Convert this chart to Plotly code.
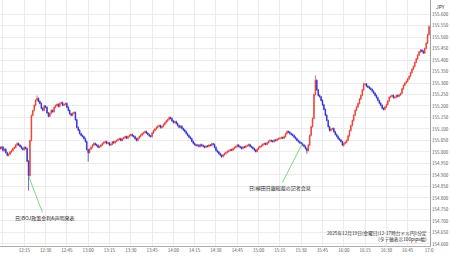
import pandas as pd
import plotly.graph_objects as go

# ---------------- data (USD/JPY, 1-minute closes) ----------------
start_time = "2025-12-19 11:58"
first_open = 155.020
closes = [
    155.015, 155.022, 155.006, 155.012, 154.997, 154.985, 154.990, 155.000, 155.006, 155.015,
    155.020, 155.030, 155.037, 155.030, 155.024, 155.016, 155.010, 155.020, 155.015, 154.960,
    154.897, 155.050, 155.159, 155.180, 155.203, 155.225, 155.233, 155.220, 155.211, 155.190,
    155.181, 155.200, 155.194, 155.170, 155.155, 155.168, 155.181, 155.175, 155.194, 155.202,
    155.207, 155.198, 155.211, 155.215, 155.203, 155.207, 155.211, 155.195, 155.181, 155.166,
    155.159, 155.168, 155.172, 155.140, 155.107, 155.095, 155.080, 155.072, 155.067, 155.058,
    155.045, 155.010, 154.997, 155.012, 155.020, 155.030, 155.037, 155.032, 155.028, 155.020,
    155.024, 155.030, 155.037, 155.042, 155.045, 155.037, 155.040, 155.030, 155.033, 155.044,
    155.040, 155.046, 155.050, 155.055, 155.058, 155.050, 155.058, 155.062, 155.067, 155.060,
    155.067, 155.072, 155.076, 155.070, 155.067, 155.058, 155.050, 155.060, 155.067, 155.074,
    155.080, 155.084, 155.089, 155.082, 155.076, 155.070, 155.067, 155.082, 155.093, 155.100,
    155.107, 155.112, 155.115, 155.106, 155.111, 155.120, 155.128, 155.135, 155.141, 155.150,
    155.146, 155.135, 155.128, 155.132, 155.124, 155.115, 155.107, 155.112, 155.102, 155.096,
    155.089, 155.080, 155.072, 155.064, 155.058, 155.046, 155.037, 155.032, 155.028, 155.030,
    155.024, 155.032, 155.028, 155.024, 155.020, 155.026, 155.024, 155.030, 155.028, 155.036,
    155.033, 155.020, 155.006, 155.000, 154.993, 154.986, 154.980, 154.988, 154.993, 154.998,
    155.002, 155.006, 155.010, 155.008, 155.015, 155.020, 155.024, 155.030, 155.024, 155.020,
    155.015, 155.022, 155.020, 155.026, 155.028, 155.032, 155.024, 155.020, 155.015, 155.008,
    155.002, 155.012, 155.020, 155.024, 155.028, 155.034, 155.037, 155.033, 155.040, 155.046,
    155.050, 155.048, 155.045, 155.052, 155.050, 155.056, 155.058, 155.060, 155.063, 155.060,
    155.067, 155.080, 155.089, 155.086, 155.080, 155.076, 155.072, 155.064, 155.058, 155.050,
    155.045, 155.040, 155.037, 155.030, 155.024, 155.015, 155.006, 155.030, 155.072, 155.110,
    155.146, 155.250, 155.312, 155.270, 155.246, 155.240, 155.224, 155.205, 155.185, 155.160,
    155.137, 155.110, 155.093, 155.100, 155.102, 155.088, 155.076, 155.068, 155.058, 155.052,
    155.045, 155.030, 155.037, 155.042, 155.050, 155.070, 155.093, 155.115, 155.137, 155.160,
    155.181, 155.196, 155.211, 155.230, 155.246, 155.270, 155.294, 155.296, 155.286, 155.282,
    155.277, 155.272, 155.264, 155.256, 155.246, 155.236, 155.224, 155.212, 155.203, 155.190,
    155.185, 155.196, 155.207, 155.222, 155.238, 155.242, 155.246, 155.236, 155.238, 155.246,
    155.242, 155.248, 155.255, 155.275, 155.290, 155.300, 155.307, 155.318, 155.329, 155.345,
    155.360, 155.372, 155.390, 155.405, 155.421, 155.435, 155.443, 155.438, 155.430, 155.450,
    155.473, 155.510, 155.545,
]
wick_pad = 0.004
high_overrides = {"12:24": 155.246, "15:40": 155.334, "15:20": 155.095,
                  "16:14": 155.302, "16:54": 155.447, "17:00": 155.552}
low_overrides = {"12:18": 154.831, "13:00": 154.958, "15:34": 154.993,
                 "16:00": 155.022, "14:34": 154.975}

x_tick_labels = ["12:00", "12:15", "12:30", "12:45", "13:00", "13:15", "13:30", "13:45",
                 "14:00", "14:15", "14:30", "14:45", "15:00", "15:15", "15:30", "15:45",
                 "16:00", "16:15", "16:30", "16:45", "17:0"]
y_tick_labels = ["154.600", "154.650", "154.700", "154.750", "154.800", "154.850", "154.900",
                 "154.950", "155.000", "155.050", "155.100", "155.150", "155.200", "155.250",
                 "155.300", "155.350", "155.400", "155.450", "155.500", "155.550", "155.600"]

note_boj = "日)BOJ政策金利&声明発表"
note_ueda = "日)植田日銀総裁の記者会見"
caption = "2025年12月19日(金曜日)12-17時台ドル円1分足<br>(タテ軸表示100pips幅)"

# ---------------- build OHLC ----------------
times = pd.date_range(start_time, periods=len(closes), freq="1min")
opens = [first_open] + closes[:-1]
highs, lows = [], []
for t, o, c in zip(times, opens, closes):
    key = t.strftime("%H:%M")
    highs.append(high_overrides.get(key, max(o, c) + wick_pad))
    lows.append(low_overrides.get(key, min(o, c) - wick_pad))

UP = "#e8392f"
DOWN = "#2a2ad0"

fig = go.Figure(go.Candlestick(
    x=times, open=opens, high=highs, low=lows, close=closes,
    increasing=dict(line=dict(color=UP, width=0.7), fillcolor=UP),
    decreasing=dict(line=dict(color=DOWN, width=0.7), fillcolor=DOWN),
    whiskerwidth=0, hoverinfo="skip",
))

x_tick_vals = pd.date_range("2025-12-19 12:00", "2025-12-19 17:00", freq="15min")
y_tick_vals = [float(v) for v in y_tick_labels]

fig.update_layout(
    width=450, height=258,
    margin=dict(l=0, r=20, t=0, b=12),
    paper_bgcolor="white", plot_bgcolor="white",
    showlegend=False,
    font=dict(family="Noto Sans CJK JP", color="#333"),
    xaxis=dict(
        type="date",
        range=["2025-12-19 11:57:54", "2025-12-19 17:00:42"],
        tickvals=x_tick_vals, ticktext=x_tick_labels,
        tickfont=dict(size=4.5, color="#555"),
        showgrid=True, gridcolor="#ececec", gridwidth=1,
        showline=True, linecolor="#b0b0b0", linewidth=1,
        ticks="", zeroline=False,
        rangeslider=dict(visible=False),
    ),
    yaxis=dict(
        side="right",
        range=[154.591, 155.661],
        tickvals=y_tick_vals, ticktext=y_tick_labels,
        tickfont=dict(size=4.5, color="#555"),
        showgrid=True, gridcolor="#ececec", gridwidth=1,
        showline=True, linecolor="#a0a0a0", linewidth=1,
        ticks="", zeroline=False,
    ),
)

GREEN = "#5ccc5c"
fig.add_annotation(x=pd.Timestamp("2025-12-19 12:18"), y=154.896, text=note_boj,
                   showarrow=True, arrowhead=0, arrowcolor=GREEN, arrowwidth=0.8,
                   ax=16, ay=42, font=dict(size=5, color="#222"))
fig.add_annotation(x=pd.Timestamp("2025-12-19 15:31"), y=155.039, text=note_ueda,
                   showarrow=True, arrowhead=0, arrowcolor=GREEN, arrowwidth=0.8,
                   ax=-23, ay=45, font=dict(size=5, color="#222"))
fig.add_annotation(xref="paper", yref="paper", x=1, y=0, xanchor="right", yanchor="bottom",
                   xshift=-1, yshift=1, text=caption, showarrow=False, align="right",
                   font=dict(size=4.7, color="#222"))
fig.add_annotation(xref="paper", yref="paper", x=1, y=1, xanchor="left", yanchor="top",
                   xshift=4, yshift=-1, text="JPY", showarrow=False,
                   font=dict(size=5, color="#333"))

fig.write_html("out.html")
